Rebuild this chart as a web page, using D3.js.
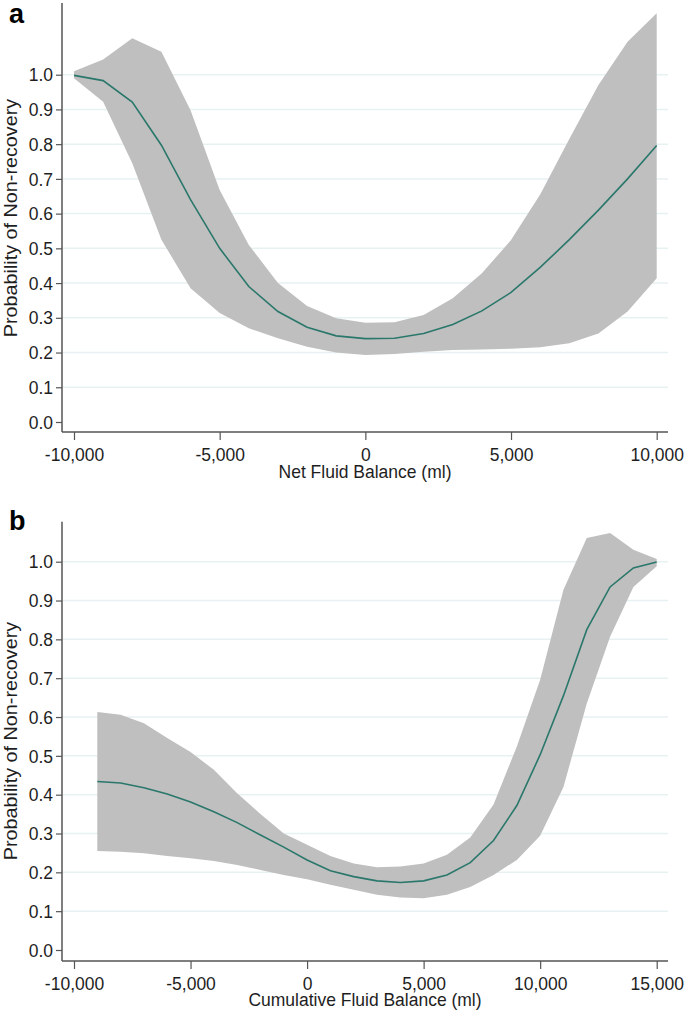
<!DOCTYPE html>
<html>
<head>
<meta charset="utf-8">
<script src="https://cdn.jsdelivr.net/npm/d3@7/dist/d3.min.js"></script>
<style>
  html, body { margin: 0; padding: 0; background: #ffffff; }
  svg { display: block; font-family: "Liberation Sans", Arial, sans-serif; }
</style>
</head>
<body>
<svg id="chart" width="685" height="1013"></svg>
<script>
// ---------- Data ----------
// Panel a: Net Fluid Balance
const netX  = [-10000,-9000,-8000,-7000,-6000,-5000,-4000,-3000,-2000,-1000,0,1000,2000,3000,4000,5000,6000,7000,8000,9000,10000];
const netP  = [0.998,0.983,0.921,0.797,0.640,0.500,0.390,0.318,0.273,0.248,0.240,0.241,0.255,0.281,0.320,0.373,0.445,0.525,0.610,0.700,0.796];
const netLo = [0.990,0.922,0.745,0.525,0.385,0.314,0.270,0.241,0.217,0.200,0.193,0.196,0.202,0.207,0.209,0.211,0.215,0.227,0.255,0.318,0.414];
const netHi = [1.010,1.044,1.105,1.066,0.898,0.668,0.510,0.400,0.334,0.299,0.286,0.287,0.308,0.356,0.428,0.524,0.655,0.815,0.970,1.095,1.177];

// Panel b: Cumulative Fluid Balance
const cumX  = [-9000,-8000,-7000,-6000,-5000,-4000,-3000,-2000,-1000,0,1000,2000,3000,4000,5000,6000,7000,8000,9000,10000,11000,12000,13000,14000,15000];
const cumP  = [0.434,0.430,0.418,0.402,0.381,0.356,0.328,0.296,0.265,0.232,0.204,0.189,0.178,0.174,0.178,0.193,0.225,0.282,0.372,0.503,0.655,0.825,0.935,0.984,0.999];
const cumLo = [0.255,0.253,0.249,0.242,0.236,0.229,0.219,0.206,0.193,0.182,0.168,0.155,0.142,0.135,0.133,0.142,0.162,0.193,0.232,0.294,0.420,0.635,0.807,0.935,0.988];
const cumHi = [0.613,0.606,0.584,0.546,0.510,0.464,0.404,0.350,0.300,0.271,0.242,0.223,0.213,0.215,0.223,0.245,0.290,0.375,0.524,0.696,0.928,1.061,1.074,1.031,1.007];

// Tick values / labels
const yTicks      = [0,0.1,0.2,0.3,0.4,0.5,0.6,0.7,0.8,0.9,1.0];
const yTickLabels = ["0.0","0.1","0.2","0.3","0.4","0.5","0.6","0.7","0.8","0.9","1.0"];
const netXTicks   = [-10000,-5000,0,5000,10000];
const netXLabels  = ["-10,000","-5,000","0","5,000","10,000"];
const cumXTicks   = [-10000,-5000,0,5000,10000,15000];
const cumXLabels  = ["-10,000","-5,000","0","5,000","10,000","15,000"];

const yTitle = "Probability of Non-recovery";

// ---------- Drawing ----------
const svg = d3.select("#chart");
const COL_LINE = "#2a776b", COL_BAND = "#bfbfbf", COL_GRID = "#e8f1f2", COL_AXIS = "#555555", COL_TEXT = "#1e1e1e";
const FS = 17.5, VS = 1.1;

function panel(cfg) {
  const g = svg.append("g");
  const x = d3.scaleLinear().domain([cfg.xTicks[0], cfg.xTicks[cfg.xTicks.length-1]]).range([74, 656.7]);
  const y = d3.scaleLinear().domain([0, 1]).range([cfg.y0, cfg.y1]);
  const axL = 62, axR = 668;

  // gridlines
  g.selectAll("line.grid").data(yTicks.filter(d => d > 0)).enter().append("line")
    .attr("x1", axL).attr("x2", axR)
    .attr("y1", d => y(d)).attr("y2", d => y(d))
    .attr("stroke", COL_GRID).attr("stroke-width", 1.5);

  const pts = cfg.xs.map((v, i) => ({x: v, p: cfg.p[i], lo: cfg.lo[i], hi: cfg.hi[i]}));

  // band
  g.append("path").datum(pts)
    .attr("d", d3.area().x(d => x(d.x)).y0(d => y(d.lo)).y1(d => y(d.hi)))
    .attr("fill", COL_BAND);

  // line
  g.append("path").datum(pts)
    .attr("d", d3.line().x(d => x(d.x)).y(d => y(d.p)))
    .attr("fill", "none").attr("stroke", COL_LINE).attr("stroke-width", 1.6);

  // y axis
  const yAx = d3.axisLeft(y).tickValues(yTicks).tickSize(6).tickPadding(3)
    .tickFormat((d, i) => yTickLabels[i]);
  const ya = g.append("g").attr("transform", `translate(${axL},0)`).call(yAx);
  ya.select(".domain").remove();
  ya.selectAll("line").attr("stroke", COL_AXIS).attr("stroke-width", 1.2);
  ya.selectAll("text").attr("font-size", FS).attr("fill", COL_TEXT)
    .attr("font-family", "'Liberation Sans', Arial, sans-serif")
    .attr("transform", `scale(1,${VS})`);
  g.append("line").attr("x1", axL).attr("x2", axL).attr("y1", cfg.axTop).attr("y2", cfg.axBot)
    .attr("stroke", COL_AXIS).attr("stroke-width", 1.5);

  // x axis
  const xAx = d3.axisBottom(x).tickValues(cfg.xTicks).tickSize(8).tickPadding(6)
    .tickFormat((d, i) => cfg.xLabels[i]);
  const xa = g.append("g").attr("transform", `translate(0,${cfg.axBot})`).call(xAx);
  xa.select(".domain").remove();
  xa.selectAll("line").attr("stroke", COL_AXIS).attr("stroke-width", 1.2);
  xa.selectAll("text").attr("font-size", FS).attr("fill", COL_TEXT)
    .attr("font-family", "'Liberation Sans', Arial, sans-serif")
    .attr("transform", `scale(1,${VS})`);
  g.append("line").attr("x1", axL).attr("x2", axR).attr("y1", cfg.axBot).attr("y2", cfg.axBot)
    .attr("stroke", COL_AXIS).attr("stroke-width", 1.5);

  // x title
  g.append("text").attr("transform", `translate(365,${cfg.xTitleY}) scale(1,${VS})`)
    .attr("text-anchor", "middle")
    .attr("font-size", FS).attr("fill", COL_TEXT).text(cfg.xTitle);

  // y title (stretched along its length like the reference)
  g.append("text").attr("transform", `translate(17,${cfg.yTitleY}) scale(1,1.13) rotate(-90)`)
    .attr("text-anchor", "middle").attr("font-size", FS).attr("fill", COL_TEXT).text(yTitle);

  // panel label
  g.append("text").attr("x", 9).attr("y", cfg.labelY).attr("font-size", 27).attr("font-weight", "bold")
    .attr("fill", "#000").text(cfg.label);
}

panel({
  xs: netX, p: netP, lo: netLo, hi: netHi,
  xTicks: netXTicks, xLabels: netXLabels,
  y0: 422, y1: 74.7, axTop: 3, axBot: 432,
  xTitle: "Net Fluid Balance (ml)", xTitleY: 478, yTitleY: 218,
  label: "a", labelY: 23
});

panel({
  xs: cumX, p: cumP, lo: cumLo, hi: cumHi,
  xTicks: cumXTicks, xLabels: cumXLabels,
  y0: 950, y1: 561.7, axTop: 521.7, axBot: 961,
  xTitle: "Cumulative Fluid Balance (ml)", xTitleY: 1006, yTitleY: 741,
  label: "b", labelY: 530
});
</script>
</body>
</html>
